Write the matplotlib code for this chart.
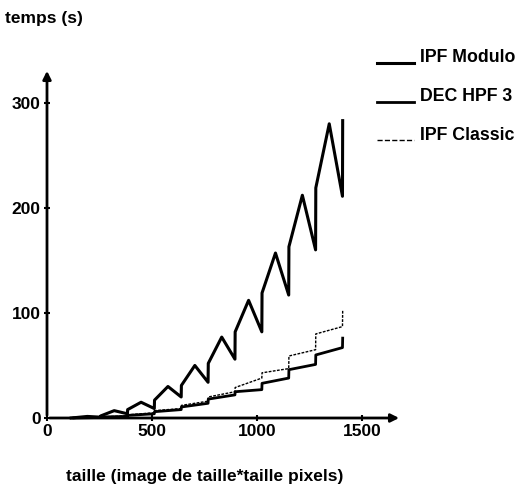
import matplotlib
matplotlib.use('Agg')
import matplotlib.pyplot as plt

plt.rcParams['font.family'] = ['Liberation Sans', 'DejaVu Sans']
plt.rcParams['font.weight'] = 'bold'

# image size (pixels) and time (s)
x_modulo = [115, 192, 255, 256, 320, 383, 384, 448, 511, 512, 576, 639, 640,
            704, 767, 768, 832, 895, 896, 960, 1023, 1024, 1088, 1151, 1152,
            1216, 1279, 1280, 1344, 1407, 1408]
y_modulo = [0, 1.5, 0.8, 2, 7, 4, 8, 15, 9, 17, 30, 20, 31,
            50, 34, 52, 77, 56, 82, 112, 82, 119, 157, 117, 163,
            212, 160, 219, 280, 211, 283]

x_steps = [128, 255, 256, 383, 384, 511, 512, 639, 640, 767, 768, 895, 896,
           1023, 1024, 1151, 1152, 1279, 1280, 1407, 1408]
y_dec = [0, 0.5, 1, 1.5, 2.5, 4, 6, 8, 10.5, 14, 18, 22, 25,
         27, 33, 38, 46, 51, 60, 67, 76]
y_classic = [0, 0.5, 1, 2, 3, 5, 7, 9, 12, 16, 20, 25, 29,
             38, 43, 47, 59, 65, 80, 87, 102]

labels = ['IPF Modulo', 'DEC HPF 3', 'IPF Classic']

fig = plt.figure(figsize=(5.19, 4.88), dpi=100)
ax = fig.add_axes([47 / 519, 70 / 488, 357 / 519, 352 / 488])

l1, = ax.plot(x_modulo, y_modulo, color='black', lw=2.2, clip_on=False)
l2, = ax.plot(x_steps, y_dec, color='black', lw=2.0, clip_on=False)
l3, = ax.plot(x_steps, y_classic, color='black', lw=1.0, ls=(0, (2, 1)), clip_on=False)

ax.set_xlim(0, 1700)
ax.set_ylim(0, 335)

for s in ax.spines.values():
    s.set_visible(False)

# axes with arrows
ax.annotate('', xy=(1690, 0), xytext=(0, 0), annotation_clip=False,
            arrowprops=dict(arrowstyle='-|>', color='black', lw=2, mutation_scale=12))
ax.annotate('', xy=(0, 333), xytext=(0, 0), annotation_clip=False,
            arrowprops=dict(arrowstyle='-|>', color='black', lw=2, mutation_scale=12))

ax.set_xticks([0, 500, 1000, 1500])
ax.set_yticks([0, 100, 200, 300])
ax.tick_params(direction='inout', length=5, width=1.5, labelsize=12.5, pad=2)
for t in ax.get_xticklabels() + ax.get_yticklabels():
    t.set_fontweight('bold')

fig.text(5 / 519, 1 - 18 / 488, 'temps (s)', fontsize=12.5, fontweight='bold', va='center', ha='left')
fig.text(205 / 519, 1 - 477 / 488, 'taille (image de taille*taille pixels)', fontsize=12.5,
         fontweight='bold', va='center', ha='center')

# legend drawn by hand at the right edge
for i, (ln, lab) in enumerate(zip([l1, l2, l3], labels)):
    ytxt = 1 - (58 + i * 38.5) / 488
    yline = 1 - (63 + i * 38.5) / 488
    fig.add_artist(plt.Line2D([377 / 519, 414 / 519], [yline, yline],
                              color='black', lw=ln.get_linewidth(), ls=ln.get_linestyle()))
    fig.text(420 / 519, ytxt, lab, fontsize=12.8, fontweight='bold', va='center', ha='left')

fig.savefig('out.png', dpi=100)
